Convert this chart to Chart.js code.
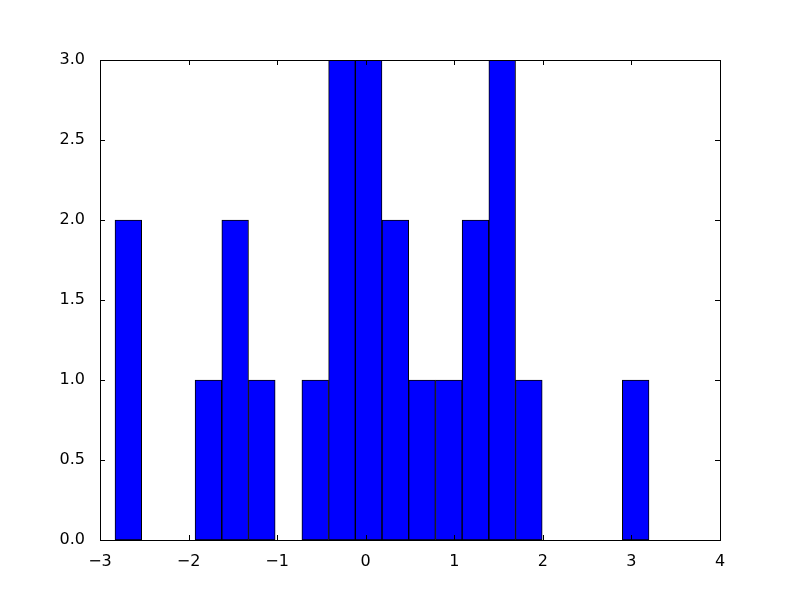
<!DOCTYPE html>
<html>
<head>
<meta charset="utf-8">
<script src="https://cdn.jsdelivr.net/npm/chart.js@4"></script>
<style>
  html, body { margin: 0; padding: 0; background: #fff; }
  #wrap { width: 800px; height: 600px; }
</style>
</head>
<body>
<div id="wrap"><canvas id="hist" width="800" height="600"></canvas></div>
<script>
// histogram bins (centres) and counts
const binCenters = [-2.680, -2.379, -2.077, -1.776, -1.474, -1.173, -0.871, -0.570, -0.268, 0.033,
                    0.335, 0.636, 0.938, 1.239, 1.541, 1.842, 2.144, 2.445, 2.747, 3.048];
const counts = [2, 0, 0, 1, 2, 1, 0, 1, 3, 3,
                2, 1, 1, 2, 3, 1, 0, 0, 0, 1];
const xTicks = [-3, -2, -1, 0, 1, 2, 3, 4];
const yTicks = [0, 0.5, 1, 1.5, 2, 2.5, 3];

const fmtMinus = v => (v < 0 ? '\u2212' + Math.abs(v) : String(v));

// box around plot plus inward ticks on all four sides (matplotlib classic look)
const frame = {
    id: 'frame',
    afterDatasetsDraw(chart) {
        const { ctx, chartArea: a, scales } = chart;
        const len = 5;
        ctx.save();
        ctx.strokeStyle = '#000';
        ctx.lineWidth = 1;
        ctx.beginPath();
        xTicks.forEach(v => {
            const x = Math.round(scales.x.getPixelForValue(v)) + 0.5;
            ctx.moveTo(x, a.bottom); ctx.lineTo(x, a.bottom - len);
            ctx.moveTo(x, a.top); ctx.lineTo(x, a.top + len);
        });
        yTicks.forEach(v => {
            const y = Math.round(scales.y.getPixelForValue(v)) + 0.5;
            ctx.moveTo(a.left, y); ctx.lineTo(a.left + len, y);
            ctx.moveTo(a.right, y); ctx.lineTo(a.right - len, y);
        });
        ctx.stroke();
        ctx.strokeRect(Math.round(a.left) + 0.5, Math.round(a.top) + 0.5,
                       Math.round(a.right - a.left), Math.round(a.bottom - a.top));
        ctx.restore();
    }
};

const ctx = document.getElementById('hist').getContext('2d');
new Chart(ctx, {
    type: 'bar',
    data: {
        datasets: [{
            data: binCenters.map((c, i) => ({ x: c, y: counts[i] })),
            backgroundColor: '#0000ff',
            borderColor: '#000000',
            borderWidth: 1,
            borderSkipped: false,
            barPercentage: 1.0,
            categoryPercentage: 1.0
        }]
    },
    options: {
        responsive: false,
        animation: false,
        layout: { padding: { left: 0, top: 60, right: 80, bottom: 0 } },
        plugins: { legend: { display: false }, tooltip: { enabled: false } },
        scales: {
            x: {
                type: 'linear',
                offset: false,
                min: -3, max: 4,
                grid: { display: false, offset: false },
                border: { display: false },
                afterBuildTicks: s => { s.ticks = xTicks.map(v => ({ value: v })); },
                afterFit: s => { s.height = 60; },
                ticks: {
                    color: '#000',
                    padding: 4,
                    maxRotation: 0,
                    font: { family: 'DejaVu Sans', size: 16 },
                    callback: v => fmtMinus(v)
                }
            },
            y: {
                min: 0, max: 3,
                grid: { display: false },
                border: { display: false },
                afterBuildTicks: s => { s.ticks = yTicks.map(v => ({ value: v })); },
                afterFit: s => { s.width = 100; },
                ticks: {
                    color: '#000',
                    padding: 7,
                    font: { family: 'DejaVu Sans', size: 16 },
                    callback: v => v.toFixed(1)
                }
            }
        }
    },
    plugins: [frame]
});
</script>
</body>
</html>
